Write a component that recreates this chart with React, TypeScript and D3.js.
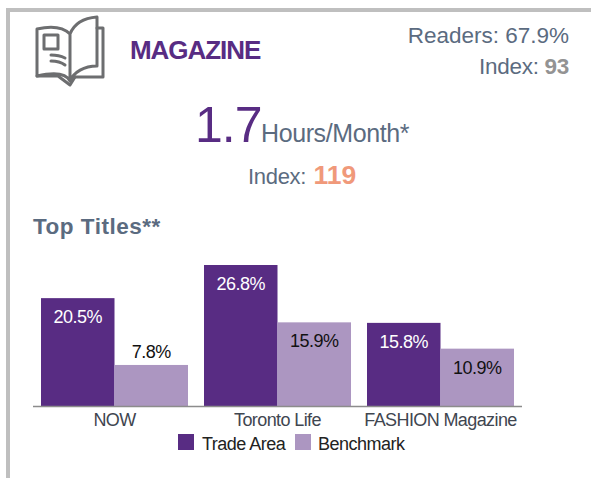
import React from "react";
import * as d3 from "d3";

const categories = ["NOW", "Toronto Life", "FASHION Magazine"];
const seriesNames = ["Trade Area", "Benchmark"];
const tradeArea = [20.5, 26.8, 15.8];
const benchmark = [7.8, 15.9, 10.9];
const colors = ["#582c83", "#ac96c1"];
const F = "'Liberation Sans', Arial, sans-serif";

export default function App() {
  const x0 = d3.scaleBand<string>().domain(categories).range([33, 522]).paddingInner(0.0);
  const x1 = d3.scaleBand<string>().domain(seriesNames).range([0, 147]);
  const y = d3.scaleLinear().domain([0, 26.8]).range([406, 265]);
  const series = [tradeArea, benchmark];
  const left = (c: string) => (x0(c) as number) + (x0.bandwidth() - 147) / 2;
  return (
    <svg width={591} height={478} style={{ position: "absolute", left: 0, top: 0, fontFamily: F }}>
      <rect width={591} height={478} fill="#fff" />
      <path d="M8,478 V10 H591" fill="none" stroke="#bfbfbf" strokeWidth={4} />
      <g fill="none" stroke="#6d6e70" strokeWidth={3} strokeLinejoin="round" strokeLinecap="round">
        <path d="M70,81 C66,73 54,72 37,76 V29 C50,26 62,26 70,34 C74,24 84,18 97,17 V66 C84,66 74,72 70,81 V34" />
        <path d="M97,28 H103 V77 H75" />
        <path d="M37,76 H58 L70,85 L75,77" />
        <rect x={44} y={35} width={14} height={14} />
        <path d="M51,55 C56,55 61,56 65,58 M51,61 C56,61 61,62 65,65" />
      </g>
      <text x={130} y={59} fontSize={26} fontWeight={700} fill="#582c83" letterSpacing={-1.05}>MAGAZINE</text>
      <text x={569} y={43} textAnchor="end" fontSize={22.5} fill="#5b6b80">Readers: 67.9%</text>
      <text x={569} y={74} textAnchor="end" fontSize={22.5} fill="#5b6b80" letterSpacing={-0.3}>
        Index: <tspan fontWeight={700} fill="#939393">93</tspan>
      </text>
      <text x={195} y={142} fontSize={50} fill="#582c83" letterSpacing={-1}>1.7</text>
      <text x={261} y={142} fontSize={25} fill="#5b6b80" letterSpacing={-0.4}>Hours/Month*</text>
      <text x={248} y={184} fontSize={22} fill="#5b6b80" letterSpacing={-0.3}>Index:</text>
      <text x={313.5} y={184} fontWeight={700} fontSize={26.5} fill="#f0997a">119</text>
      <text x={33} y={234} fontSize={22.5} fontWeight={700} fill="#5b6b80" letterSpacing={0.5}>Top Titles**</text>

      {series.map((vals, s) =>
        vals.map((v, i) => (
          <rect
            key={`${s}-${i}`}
            x={left(categories[i]) + (x1(seriesNames[s]) as number)}
            y={y(v)}
            width={x1.bandwidth()}
            height={406 - y(v)}
            fill={colors[s]}
          />
        ))
      )}
      {series.map((vals, s) =>
        vals.map((v, i) => (
          <text
            key={`l${s}-${i}`}
            x={left(categories[i]) + (x1(seriesNames[s]) as number) + x1.bandwidth() / 2}
            y={y(v) + (s === 0 ? 25 : 0) + (s === 1 && i === 0 ? -7 : 0) + (s === 1 && i > 0 ? 25 : 0)}
            textAnchor="middle"
            fontSize={18}
            fill={s === 0 ? "#fff" : "#111"}
            letterSpacing={-0.5}
          >
            {v.toFixed(1)}%
          </text>
        ))
      )}
      <line x1={33} x2={522} y1={406.5} y2={406.5} stroke="#8c8c8c" strokeWidth={1.5} />
      {categories.map((c) => (
        <text key={c} x={left(c) + 73.5} y={426} textAnchor="middle" fontSize={18} fill="#3f4650" letterSpacing={-0.6}>
          {c}
        </text>
      ))}
      <rect x={178} y={434} width={16} height={16} fill={colors[0]} />
      <text x={202} y={450} fontSize={18} fill="#222" letterSpacing={-0.5}>{seriesNames[0]}</text>
      <rect x={295} y={434} width={16} height={16} fill={colors[1]} />
      <text x={318} y={450} fontSize={18} fill="#222" letterSpacing={-0.5}>{seriesNames[1]}</text>
    </svg>
  );
}
